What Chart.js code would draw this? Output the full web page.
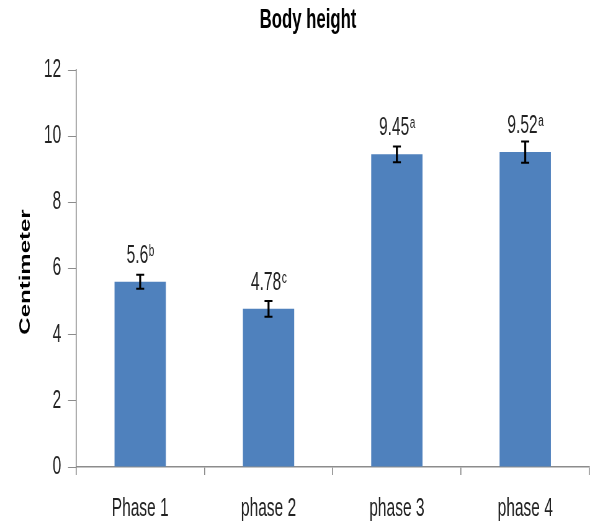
<!DOCTYPE html>
<html>
<head>
<meta charset="utf-8">
<script src="https://cdn.jsdelivr.net/npm/chart.js@4"></script>
<style>
  html, body { margin: 0; padding: 0; background: #fff; }
  /* the reference looks horizontally squeezed, so draw wide and squeeze with css */
  #bar-chart { display: block; width: 608px; height: 522px; }
</style>
</head>
<body>
<canvas id="bar-chart" width="980" height="522" style="width:608px;height:522px"></canvas>
<script>
const ctx = document.getElementById('bar-chart');

// values
const phases = ['Phase 1', 'phase 2', 'phase 3', 'phase 4'];
const heights = [5.6, 4.78, 9.45, 9.52];
const errors = [0.21, 0.24, 0.24, 0.32];
const letters = ['b', 'c', 'a', 'a'];
const yTicks = [0, 2, 4, 6, 8, 10, 12];

const chartTitle = 'Body height';
const yTitle = 'Centimeter';

const squeeze = 608 / 980;   // css width / canvas width
const px = v => v / squeeze; // real horizontal px -> canvas px

const sans = '"Liberation Sans", Arial, sans-serif';

// titles, error bars and value labels with superscript letters
const extras = {
    id: 'extras',
    afterDraw(chart) {
        const c = chart.ctx;
        c.save();
        c.fillStyle = '#000';
        c.textAlign = 'center';
        c.textBaseline = 'alphabetic';
        c.font = 'bold 27px ' + sans;
        c.fillText(chartTitle, px(308), 28);

        c.translate(px(30), 272);
        c.rotate(-Math.PI / 2);
        c.font = 'bold 24px ' + sans;
        c.fillText(yTitle, 0, 0);
        c.restore();
    },
    afterDatasetsDraw(chart) {
        const c = chart.ctx;
        const yScale = chart.scales.y;
        const meta = chart.getDatasetMeta(0);
        c.save();
        meta.data.forEach((bar, i) => {
            const x = bar.x;
            const top = yScale.getPixelForValue(heights[i] + errors[i]);
            const bottom = yScale.getPixelForValue(heights[i] - errors[i]);
            c.strokeStyle = '#000';
            c.lineWidth = px(2);
            c.beginPath();
            c.moveTo(x, top); c.lineTo(x, bottom);
            c.stroke();
            c.lineWidth = 2;
            c.beginPath();
            c.moveTo(x - px(4), top); c.lineTo(x + px(4), top);
            c.moveTo(x - px(4), bottom); c.lineTo(x + px(4), bottom);
            c.stroke();

            const main = String(heights[i]);
            c.font = '25px ' + sans;
            const w1 = c.measureText(main).width;
            c.font = '16px ' + sans;
            const w2 = c.measureText(letters[i]).width;
            const startX = x - (w1 + w2) / 2;
            const baseY = bar.y - 19;
            c.fillStyle = '#222';
            c.textBaseline = 'alphabetic';
            c.textAlign = 'left';
            c.font = '25px ' + sans;
            c.fillText(main, startX, baseY);
            c.font = '16px ' + sans;
            c.fillText(letters[i], startX + w1 + 1, baseY - 7);
        });
        c.restore();
    }
};

const dataOptions = {
    labels: phases,
    datasets: [{
        data: heights,
        backgroundColor: '#4F81BD',
        borderWidth: 0,
        barPercentage: 0.4,
        categoryPercentage: 1
    }]
};

const options = {
    responsive: false,
    animation: false,
    layout: { padding: { left: 0, right: 30, top: 70, bottom: 0 } },
    plugins: {
        legend: { display: false },
        tooltip: { enabled: false },
        title: { display: false }
    },
    scales: {
        x: {
            afterFit: s => { s.height = 55; },
            border: { display: true, color: '#8c8c8c', width: px(1) },
            grid: { drawOnChartArea: false, drawTicks: true, tickLength: 8, color: '#8c8c8c', lineWidth: px(1), offset: true },
            ticks: { color: '#222', padding: 19, font: { family: sans, size: 25 } }
        },
        y: {
            min: 0,
            max: 12,
            afterFit: s => { s.width = px(76); },
            afterBuildTicks: s => { s.ticks = yTicks.map(v => ({ value: v })); },
            border: { display: true, color: '#8c8c8c', width: px(1) },
            grid: { drawOnChartArea: false, drawTicks: true, tickLength: px(8), color: '#8c8c8c' },
            ticks: { color: '#222', padding: 11, font: { family: sans, size: 25 } }
        }
    }
};

const bodyHeightChart = new Chart(ctx, {
    type: 'bar',
    data: dataOptions,
    options: options,
    plugins: [extras]
});
</script>
</body>
</html>
